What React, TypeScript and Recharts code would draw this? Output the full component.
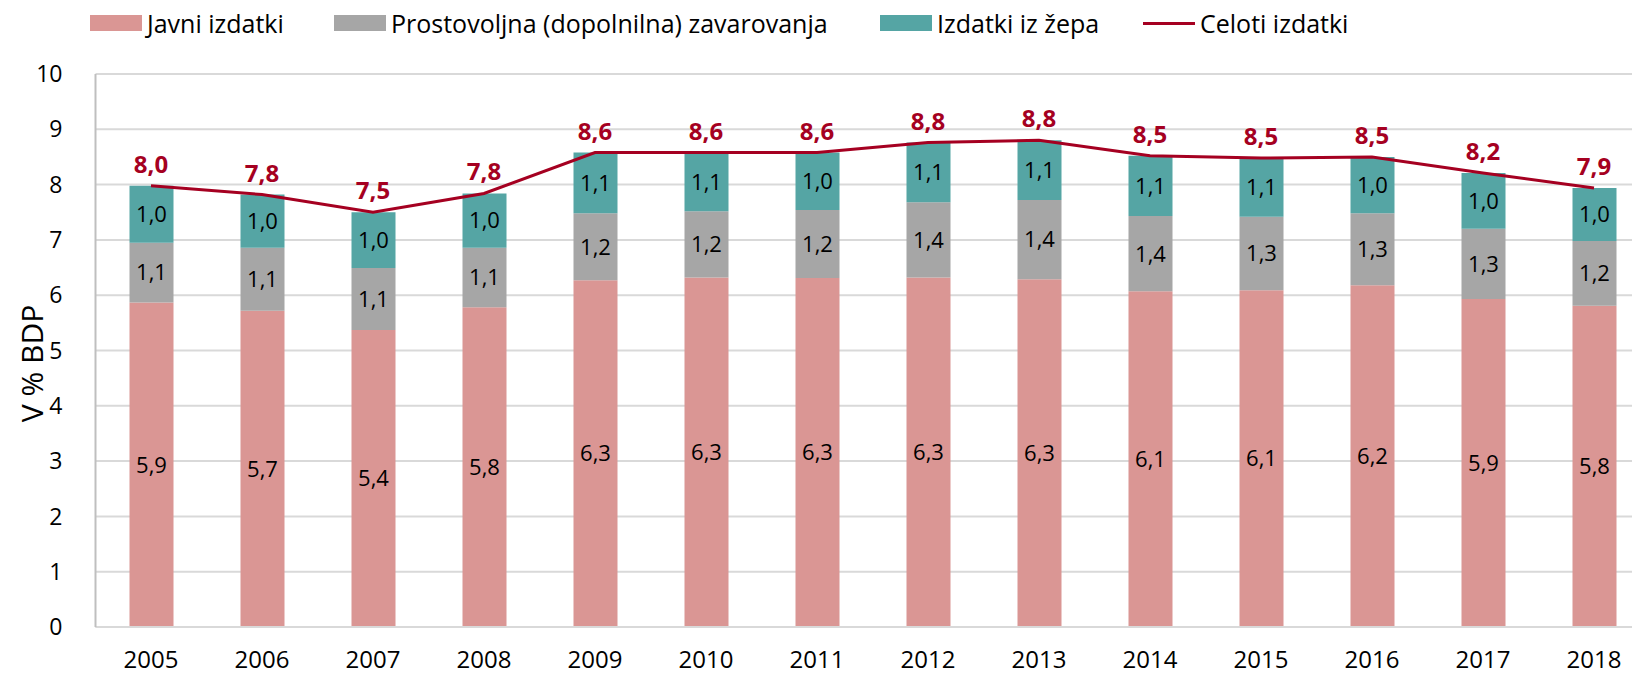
import {
  ComposedChart,
  Bar,
  Line,
  XAxis,
  YAxis,
  CartesianGrid,
  Legend,
  LabelList,
} from "recharts";

const years = ["2005", "2006", "2007", "2008", "2009", "2010", "2011", "2012", "2013", "2014", "2015", "2016", "2017", "2018"];
const javniIzdatki = [5.87, 5.72, 5.37, 5.78, 6.27, 6.32, 6.31, 6.32, 6.29, 6.07, 6.09, 6.18, 5.93, 5.81];
const prostovoljna = [1.08, 1.14, 1.12, 1.08, 1.21, 1.2, 1.23, 1.36, 1.43, 1.36, 1.33, 1.3, 1.27, 1.17];
const izdatkiIzZepa = [1.03, 0.96, 1.01, 0.98, 1.1, 1.06, 1.04, 1.08, 1.08, 1.09, 1.06, 1.02, 1.01, 0.96];
const celotiIzdatki = [7.98, 7.82, 7.5, 7.84, 8.58, 8.58, 8.58, 8.76, 8.8, 8.52, 8.48, 8.5, 8.21, 7.94];
const yTicks = [0, 1, 2, 3, 4, 5, 6, 7, 8, 9, 10];

const data = years.map((year, i) => ({
  year,
  javni: javniIzdatki[i],
  prostovoljna: prostovoljna[i],
  zep: izdatkiIzZepa[i],
  total: celotiIzdatki[i],
}));

const FONT = '"Open Sans", "Noto Sans", sans-serif';
const PINK = "#DA9694";
const GREY = "#A6A6A6";
const TEAL = "#55A5A4";
const RED = "#A50021";
const GRID = "#D9D9D9";

const fmt = (v: any) => Number(v).toFixed(1).replace(".", ",");

const legendItems = [
  { name: "Javni izdatki", color: PINK, line: false, left: 90 },
  { name: "Prostovoljna (dopolnilna) zavarovanja", color: GREY, line: false, left: 334 },
  { name: "Izdatki iz žepa", color: TEAL, line: false, left: 880 },
  { name: "Celoti izdatki", color: RED, line: true, left: 1143 },
];

function ChartLegend() {
  return (
    <div style={{ position: "relative", width: 1632, height: 74, fontFamily: FONT, fontSize: 25, color: "#000" }}>
      {legendItems.map((item) => (
        <div
          key={item.name}
          style={{ position: "absolute", left: item.left, top: 6, height: 34, display: "flex", alignItems: "center", whiteSpace: "nowrap" }}
        >
          <span
            style={{
              display: "inline-block",
              width: 52,
              height: item.line ? 3 : 16,
              background: item.color,
              marginRight: 5,
            }}
          />
          <span>{item.name}</span>
        </div>
      ))}
    </div>
  );
}

// y-axis title, a little below the plot centre like in the original
function YTitle(props: any) {
  const vb = props.viewBox || {};
  const cx = (vb.x || 0) + 31;
  const cy = (vb.y || 0) + (vb.height || 0) / 2 + 13;
  return (
    <text
      x={cx}
      y={cy}
      transform={`rotate(-90, ${cx}, ${cy})`}
      textAnchor="middle"
      dominantBaseline="central"
      fill="#000"
      fontSize={30}
      fontFamily={FONT}
    >
      V % BDP
    </text>
  );
}

export default function App() {
  return (
    <div style={{ position: "absolute", top: 0, left: 0, width: 1632, height: 678, overflow: "hidden", background: "#fff" }}>
      <ComposedChart
        width={1660}
        height={678}
        data={data}
        margin={{ top: 0, right: 10.5, left: 0, bottom: 0 }}
        style={{ fontFamily: FONT }}
      >
        <Legend verticalAlign="top" wrapperStyle={{ top: 0, left: 0 }} content={() => <ChartLegend />} />
        <CartesianGrid vertical={false} stroke={GRID} strokeWidth={2} />
        <XAxis
          dataKey="year"
          tickLine={false}
          tickSize={0}
          tickMargin={24}
          height={51}
          axisLine={{ stroke: GRID, strokeWidth: 2 }}
          tick={{ fill: "#000", fontSize: 24 }}
        />
        <YAxis
          domain={[0, 10]}
          ticks={yTicks}
          interval={0}
          width={95.5}
          tickLine={false}
          tickSize={0}
          tickMargin={33}
          axisLine={{ stroke: "#BFBFBF", strokeWidth: 2 }}
          tick={{ fill: "#000", fontSize: 23 }}
          label={<YTitle />}
        />
        <Bar dataKey="javni" stackId="a" fill={PINK} barSize={44} isAnimationActive={false}>
          <LabelList dataKey="javni" position="center" formatter={fmt} fill="#000" fontSize={22} />
        </Bar>
        <Bar dataKey="prostovoljna" stackId="a" fill={GREY} barSize={44} isAnimationActive={false}>
          <LabelList dataKey="prostovoljna" position="center" formatter={fmt} fill="#000" fontSize={22} />
        </Bar>
        <Bar dataKey="zep" stackId="a" fill={TEAL} barSize={44} isAnimationActive={false}>
          <LabelList dataKey="zep" position="center" formatter={fmt} fill="#000" fontSize={22} />
        </Bar>
        <Line
          type="linear"
          dataKey="total"
          stroke={RED}
          strokeWidth={3}
          dot={false}
          activeDot={false}
          isAnimationActive={false}
        >
          <LabelList dataKey="total" position="top" offset={13} formatter={fmt} fill={RED} fontSize={24} fontWeight="bold" />
        </Line>
      </ComposedChart>
    </div>
  );
}
